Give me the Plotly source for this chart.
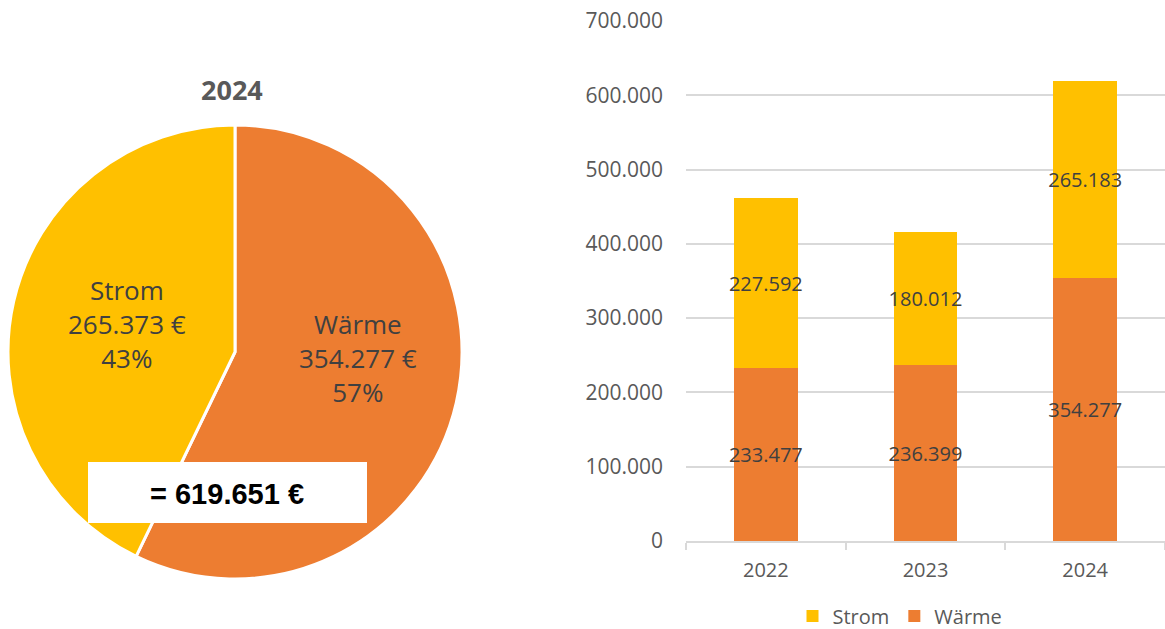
import plotly.graph_objects as go

# Pie (2024)
pie_labels = ["Wärme", "Strom"]
pie_values = [354277, 265373]
pie_title = "2024"
pie_total = 619651

# Stacked bars
years = ["2022", "2023", "2024"]
waerme = [233477, 236399, 354277]
strom = [227592, 180012, 265183]

c_strom = "#FFC000"
c_waerme = "#ED7D31"
txt = "#404040"
axis_txt = "#595959"
font = "Open Sans"
W, H = 1165, 629


def de(n):
    return f"{n:,.0f}".replace(",", ".")


fig = go.Figure()

fig.add_trace(go.Pie(
    labels=pie_labels, values=pie_values, sort=False, direction="clockwise", rotation=0,
    marker=dict(colors=[c_waerme, c_strom], line=dict(color="white", width=3)),
    textinfo="none",
    domain=dict(x=[8 / W, 462 / W], y=[1 - 579 / H, 1 - 125 / H]),
    showlegend=False, hoverinfo="skip",
))

fig.add_trace(go.Bar(
    x=years, y=waerme, name="Wärme", marker=dict(color=c_waerme, line=dict(width=0)),
    text=waerme, texttemplate="%{text:,.0f}", textposition="inside", insidetextanchor="middle",
    textangle=0, constraintext="none", textfont=dict(family=font, size=20, color=txt),
    width=0.4, legendrank=2,
))
fig.add_trace(go.Bar(
    x=years, y=strom, name="Strom", marker=dict(color=c_strom, line=dict(width=0)),
    text=strom, texttemplate="%{text:,.0f}", textposition="inside", insidetextanchor="middle",
    textangle=0, constraintext="none", textfont=dict(family=font, size=20, color=txt),
    width=0.4, legendrank=1,
))

# pie slice labels (text built from the data)
total = sum(pie_values)
label_pos = {"Strom": (127, 324), "Wärme": (358, 358)}
annotations = []
for lab, val in zip(pie_labels, pie_values):
    px, py = label_pos[lab]
    annotations.append(dict(
        text=f"{lab}<br>{de(val)} €<br>{round(val / total * 100)}%",
        x=px / W, y=1 - py / H, xref="paper", yref="paper", xanchor="center", yanchor="middle",
        showarrow=False, align="center", font=dict(family=font, size=26, color=txt)))

annotations += [
    dict(text="<b>" + pie_title + "</b>", x=232 / W, y=1 - 90 / H, xref="paper", yref="paper",
         xanchor="center", yanchor="middle",
         showarrow=False, font=dict(family=font, size=27, color=axis_txt)),
    dict(text="<b>= " + de(pie_total) + " €</b>", x=227 / W, y=1 - 494 / H, xref="paper", yref="paper",
         xanchor="center", yanchor="middle",
         showarrow=False, font=dict(family="Liberation Sans", size=29, color="black")),
]

fig.update_layout(
    width=W, height=H, margin=dict(l=0, r=0, t=0, b=0, autoexpand=False),
    paper_bgcolor="white", plot_bgcolor="white",
    separators=",.",
    barmode="stack",
    font=dict(family=font, color=axis_txt),
    xaxis=dict(domain=[686 / W, 1.0], showline=True, linecolor="#D9D9D9", linewidth=1.5,
               ticks="outside", tickson="boundaries", ticklen=7, tickcolor="#D9D9D9", tickwidth=1.5,
               ticklabelstandoff=10,
               tickfont=dict(size=20, color=axis_txt), showgrid=False, automargin=False),
    yaxis=dict(domain=[1 - 541 / H, 1 - 21 / H], range=[0, 700000], dtick=100000,
               tickformat=",.0f", showgrid=True, gridcolor="#D9D9D9", gridwidth=1.5,
               zeroline=False, ticks="", ticklabelstandoff=22, automargin=False,
               tickfont=dict(size=21, color=axis_txt)),
    legend=dict(orientation="h", x=900 / W, xanchor="center", y=1 - 616 / H, yanchor="middle",
                font=dict(size=20, color=axis_txt), traceorder="normal",
                itemwidth=30, tracegroupgap=0),
    shapes=[dict(type="rect", xref="paper", yref="paper", x0=88 / W, x1=367 / W,
                 y0=1 - 523 / H, y1=1 - 462 / H, fillcolor="white", line=dict(width=0), layer="above")],
    annotations=annotations,
)

fig.write_html("out.html", config={"displayModeBar": False},
               post_script="document.body.style.margin='0';")
